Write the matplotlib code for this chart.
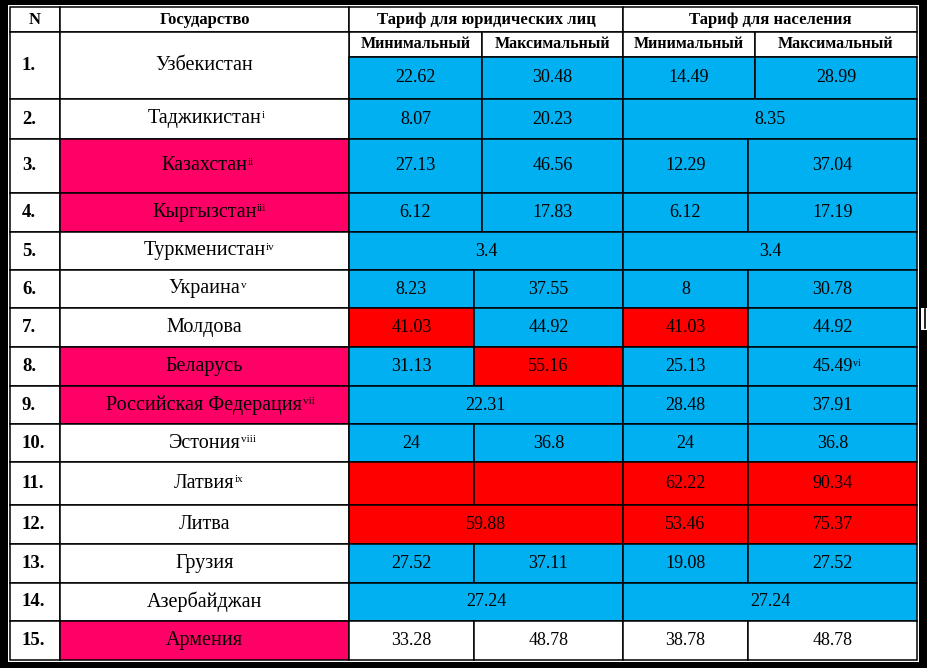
import matplotlib.pyplot as plt
from matplotlib.patches import Rectangle

# --- data -------------------------------------------------------------
numbers = [f"{i}." for i in range(1, 16)]
countries = ["Узбекистан", "Таджикистан", "Казахстан", "Кыргызстан", "Туркменистан",
             "Украина", "Молдова", "Беларусь", "Российская Федерация", "Эстония",
             "Латвия", "Литва", "Грузия", "Азербайджан", "Армения"]
country_notes = ["", "i", "ii", "iii", "iv", "v", "", "", "vii", "viii", "ix", "", "", "", ""]

legal_min = [22.62, 8.07, 27.13, 6.12, 3.4, 8.23, 41.03, 31.13, 22.31, 24, None, 59.88, 27.52, 27.24, 33.28]
legal_max = [30.48, 20.23, 46.56, 17.83, None, 37.55, 44.92, 55.16, None, 36.8, None, None, 37.11, None, 48.78]
pop_min = [14.49, 8.35, 12.29, 6.12, 3.4, 8, 41.03, 25.13, 28.48, 24, 62.22, 53.46, 19.08, 27.24, 38.78]
pop_max = [28.99, None, 37.04, 17.19, None, 30.78, 44.92, 45.49, 37.91, 36.8, 90.34, 75.37, 27.52, None, 48.78]
pop_max_notes = ["", "", "", "", "", "", "", "vi", "", "", "", "", "", "", ""]

# merged min/max cells (one value for both)
legal_merged = [0, 0, 0, 0, 1, 0, 0, 0, 1, 0, 0, 1, 0, 1, 0]
pop_merged = [0, 1, 0, 0, 1, 0, 0, 0, 0, 0, 0, 0, 0, 1, 0]

# highlight codes: b = blue, r = red, w = white
legal_min_hl = "bbbbbbrbbbrrbbw"
legal_max_hl = "bbbbbbbrbbrrbbw"
pop_min_hl = "bbbbbbrbbbrrbbw"
pop_max_hl = "bbbbbbbbbbrrbbw"
country_hl = [3, 4, 8, 9, 15]

# --- layout -------------------------------------------------------------
COLORS = {"b": "#00B0F0", "r": "#FF0000", "w": "white", "p": "#FF0066"}
FONT = "Liberation Serif"

X_LEFT, X_NAME, X_LEGAL, X_POP, X_RIGHT = 10, 60, 349, 623, 917
Y_TOP, Y_HEAD1, Y_HEAD2 = 7, 32, 57
row_edges = [57, 99, 139, 193, 232, 270, 308, 347, 386, 424, 462, 505, 544, 583, 621, 660]


def legal_split(i):
    return 482 if i < 4 else 474


def pop_split(i):
    return 755 if i < 2 else 748


fig = plt.figure(figsize=(9.28, 6.68), dpi=100, facecolor="black")
ax = fig.add_axes([0, 0, 1, 1])
ax.set_xlim(0, 928)
ax.set_ylim(668, 0)
ax.axis("off")

ax.add_patch(Rectangle((8, 5), 911, 657, facecolor="white", edgecolor="none"))
# small cursor mark at the right edge
ax.add_patch(Rectangle((921, 308), 7, 22, facecolor="white", edgecolor="none"))
ax.plot([925, 925], [309, 328], color="black", lw=1.2)


def cell(x0, x1, y0, y1, color="white", text="", note="", size=13, bold=False, ha="center"):
    ax.add_patch(Rectangle((x0, y0), x1 - x0, y1 - y0, facecolor=color,
                           edgecolor="black", lw=1.1))
    if not text:
        return
    tx = (x0 + x1) / 2 if ha == "center" else x0 + 12
    t = ax.text(tx, (y0 + y1) / 2, text, ha=ha, va="center", fontsize=size,
                family=FONT, fontweight="bold" if bold else "normal")
    if note:
        ax.annotate(note, xy=(1, 0.93), xycoords=t, xytext=(0.3, 0),
                    textcoords="offset points", ha="left", va="top",
                    fontsize=size * 0.55, family=FONT)


def fmt(v):
    return "" if v is None else f"{v:g}"


# header
cell(X_LEFT, X_NAME, Y_TOP, Y_HEAD1, text="N", size=12, bold=True)
cell(X_NAME, X_LEGAL, Y_TOP, Y_HEAD1, text="Государство", size=12, bold=True)
cell(X_LEGAL, X_POP, Y_TOP, Y_HEAD1, text="Тариф для юридических лиц", size=12, bold=True)
cell(X_POP, X_RIGHT, Y_TOP, Y_HEAD1, text="Тариф для населения", size=12, bold=True)
cell(X_LEGAL, legal_split(0), Y_HEAD1, Y_HEAD2, text="Минимальный", size=11.5, bold=True)
cell(legal_split(0), X_POP, Y_HEAD1, Y_HEAD2, text="Максимальный", size=11.5, bold=True)
cell(X_POP, pop_split(0), Y_HEAD1, Y_HEAD2, text="Минимальный", size=11.5, bold=True)
cell(pop_split(0), X_RIGHT, Y_HEAD1, Y_HEAD2, text="Максимальный", size=11.5, bold=True)

# body
for i in range(15):
    y0, y1 = row_edges[i], row_edges[i + 1]
    top = Y_HEAD1 if i == 0 else y0
    cell(X_LEFT, X_NAME, top, y1, text=numbers[i], size=13.5, bold=True, ha="left")
    cell(X_NAME, X_LEGAL, top, y1, COLORS["p" if i + 1 in country_hl else "w"],
         text=countries[i], note=country_notes[i], size=14.5)

    ls = legal_split(i)
    if legal_merged[i]:
        cell(X_LEGAL, X_POP, y0, y1, COLORS[legal_min_hl[i]], text=fmt(legal_min[i]))
    else:
        cell(X_LEGAL, ls, y0, y1, COLORS[legal_min_hl[i]], text=fmt(legal_min[i]))
        cell(ls, X_POP, y0, y1, COLORS[legal_max_hl[i]], text=fmt(legal_max[i]))

    ps = pop_split(i)
    if pop_merged[i]:
        cell(X_POP, X_RIGHT, y0, y1, COLORS[pop_min_hl[i]], text=fmt(pop_min[i]))
    else:
        cell(X_POP, ps, y0, y1, COLORS[pop_min_hl[i]], text=fmt(pop_min[i]))
        cell(ps, X_RIGHT, y0, y1, COLORS[pop_max_hl[i]], text=fmt(pop_max[i]),
             note=pop_max_notes[i])

fig.savefig("out.png", dpi=100, facecolor=fig.get_facecolor())
plt.close()
